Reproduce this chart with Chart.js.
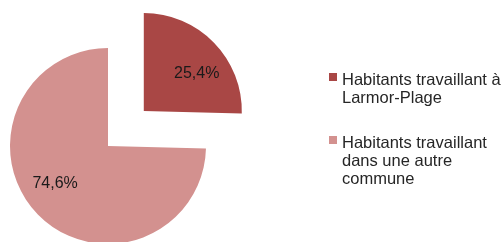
<!DOCTYPE html>
<html>
<head>
<meta charset="utf-8">
<script src="https://cdn.jsdelivr.net/npm/chart.js@4"></script>
<style>
  html, body { margin: 0; padding: 0; background: #fff; }
  #wrap { position: relative; width: 504px; height: 242px; overflow: hidden; }
  #legend { position: absolute; left: 329px; top: 0; width: 175px;
            font: 16.5px "Liberation Sans", Arial, sans-serif; color: #262626; line-height: 18px; }
  .item { position: absolute; left: 0; }
  .box { position: absolute; left: 0; top: 3px; width: 8px; height: 8px; }
  .txt { position: absolute; left: 13px; white-space: nowrap; }
</style>
</head>
<body>
<div id="wrap">
  <canvas id="chart1" width="504" height="242"></canvas>
  <div id="legend"></div>
</div>
<script>
const labels = [['Habitants travaillant à', 'Larmor-Plage'],
                ['Habitants travaillant', 'dans une autre', 'commune']];
const values = [25.4, 74.6];
const colors = ['#A94745', '#D3918F'];
const explode = [50, 0]; // px the slice is pulled out

const legendTops = [70, 133];

const ctx = document.getElementById('chart1');

const pctLabels = {
    id: 'pctLabels',
    afterDatasetsDraw(chart) {
        const c = chart.ctx;
        const meta = chart.getDatasetMeta(0);
        c.save();
        c.font = '16px "Liberation Sans", Arial, sans-serif';
        c.fillStyle = '#1a1a1a';
        c.textAlign = 'center';
        c.textBaseline = 'middle';
        meta.data.forEach((arc, i) => {
            const p = arc.getProps(['x', 'y', 'startAngle', 'endAngle', 'outerRadius'], true);
            const mid = (p.startAngle + p.endAngle) / 2;
            const cx = p.x + Math.cos(mid) * explode[i];
            const cy = p.y + Math.sin(mid) * explode[i];
            const a = mid + 0.16;
            const d = p.outerRadius * 0.66;
            const txt = values[i].toFixed(1).replace('.', ',') + '%';
            c.fillText(txt, cx + Math.cos(a) * d, cy + Math.sin(a) * d);
        });
        c.restore();
    }
};

new Chart(ctx, {
    type: 'pie',
    data: {
        labels: labels.map(l => l.join(' ')),
        datasets: [{
            data: values,
            backgroundColor: colors,
            offset: explode.map(v => v * 4), // chart.js draws offset/4
            borderWidth: 0,
            clip: false
        }]
    },
    options: {
        responsive: false,
        animation: false,
        radius: 98,
        cutout: '0%',
        layout: { padding: { left: 10, right: 298, top: 50, bottom: 0 } },
        plugins: {
            legend: { display: false },
            tooltip: { enabled: false }
        }
    },
    plugins: [pctLabels]
});

// legend
const lg = document.getElementById('legend');
labels.forEach((lines, i) => {
    const item = document.createElement('div');
    item.className = 'item';
    item.style.top = legendTops[i] + 'px';
    const box = document.createElement('div');
    box.className = 'box';
    box.style.background = colors[i];
    const t = document.createElement('div');
    t.className = 'txt';
    t.innerHTML = lines.join('<br>');
    item.appendChild(box);
    item.appendChild(t);
    lg.appendChild(item);
});
</script>
</body>
</html>
